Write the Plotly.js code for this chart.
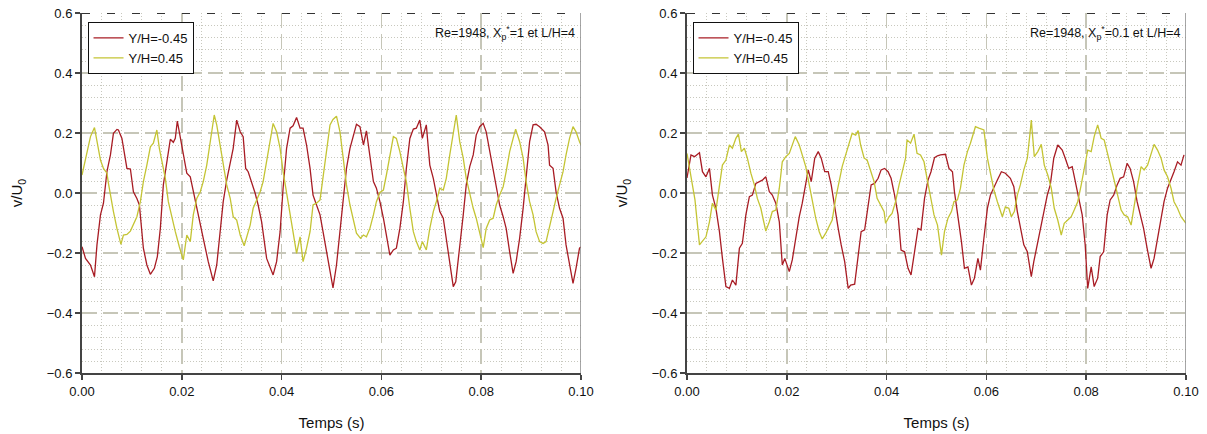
<!DOCTYPE html>
<html><head><meta charset="utf-8">
<script src="https://cdn.plot.ly/plotly-3.0.1.min.js"></script>
<style>html,body{margin:0;padding:0;background:#fff}#chart{width:1207px;height:434px}</style>
</head><body><div id="chart"></div>
<script>
// ---- Data: left panel (Xp*=1) ----
const leftRedT = [0.0000,0.0007,0.0017,0.0025,0.0030,0.0037,0.0043,0.0050,0.0057,0.0063,0.0070,0.0073,0.0080,0.0090,0.0097,0.0103,0.0110,0.0115,0.0123,0.0130,0.0137,0.0145,0.0151,0.0157,0.0163,0.0171,0.0177,0.0183,0.0187,0.0191,0.0197,0.0203,0.0210,0.0217,0.0227,0.0233,0.0243,0.0253,0.0263,0.0270,0.0277,0.0283,0.0290,0.0297,0.0303,0.0310,0.0317,0.0323,0.0328,0.0333,0.0340,0.0347,0.0353,0.0360,0.0370,0.0377,0.0383,0.0390,0.0397,0.0403,0.0410,0.0417,0.0423,0.0430,0.0437,0.0443,0.0450,0.0457,0.0463,0.0470,0.0477,0.0483,0.0490,0.0497,0.0503,0.0510,0.0517,0.0524,0.0530,0.0537,0.0544,0.0550,0.0557,0.0564,0.0570,0.0577,0.0584,0.0590,0.0597,0.0604,0.0610,0.0617,0.0624,0.0630,0.0637,0.0644,0.0650,0.0657,0.0664,0.0670,0.0677,0.0682,0.0690,0.0697,0.0704,0.0710,0.0717,0.0724,0.0730,0.0737,0.0744,0.0749,0.0757,0.0764,0.0770,0.0777,0.0784,0.0790,0.0797,0.0804,0.0810,0.0817,0.0824,0.0830,0.0837,0.0844,0.0850,0.0857,0.0864,0.0870,0.0877,0.0884,0.0890,0.0897,0.0904,0.0910,0.0917,0.0927,0.0934,0.0937,0.0944,0.0950,0.0957,0.0964,0.0970,0.0977,0.0984,0.0990,0.0997,0.1000];
const leftRedV = [-0.179,-0.218,-0.240,-0.279,-0.173,-0.073,-0.034,0.071,0.127,0.199,0.212,0.210,0.182,0.082,0.080,0.004,-0.018,-0.040,-0.184,-0.240,-0.271,-0.251,-0.212,-0.118,0.027,0.116,0.179,0.169,0.182,0.240,0.182,0.127,0.066,0.054,-0.029,-0.073,-0.151,-0.229,-0.293,-0.240,-0.118,-0.029,0.043,0.099,0.149,0.243,0.204,0.188,0.082,0.071,0.038,-0.001,-0.040,-0.096,-0.218,-0.251,-0.273,-0.229,-0.129,0.016,0.149,0.216,0.224,0.252,0.216,0.216,0.160,0.082,-0.007,-0.040,-0.073,-0.129,-0.196,-0.262,-0.316,-0.240,-0.118,-0.007,0.082,0.149,0.193,0.229,0.221,0.160,0.207,0.127,0.038,0.016,-0.029,-0.084,-0.140,-0.207,-0.190,-0.184,-0.118,-0.029,0.082,0.182,0.213,0.216,0.243,0.182,0.227,0.093,0.049,-0.007,-0.062,-0.084,-0.151,-0.240,-0.312,-0.296,-0.184,-0.073,0.027,0.088,0.127,0.193,0.221,0.232,0.204,0.138,0.082,0.016,-0.040,-0.079,-0.118,-0.196,-0.268,-0.229,-0.151,-0.051,0.049,0.171,0.227,0.229,0.221,0.204,0.160,0.093,0.082,0.004,-0.051,-0.084,-0.173,-0.240,-0.301,-0.251,-0.184,-0.180];
const leftYelT = [0.0000,0.0010,0.0017,0.0025,0.0030,0.0037,0.0043,0.0050,0.0053,0.0057,0.0063,0.0070,0.0078,0.0083,0.0090,0.0097,0.0103,0.0110,0.0117,0.0123,0.0130,0.0137,0.0143,0.0150,0.0155,0.0160,0.0167,0.0173,0.0180,0.0187,0.0195,0.0203,0.0210,0.0217,0.0223,0.0230,0.0237,0.0243,0.0250,0.0257,0.0265,0.0270,0.0277,0.0283,0.0290,0.0297,0.0303,0.0310,0.0317,0.0325,0.0330,0.0337,0.0343,0.0350,0.0357,0.0363,0.0370,0.0377,0.0383,0.0390,0.0397,0.0403,0.0410,0.0417,0.0423,0.0430,0.0437,0.0443,0.0450,0.0457,0.0463,0.0470,0.0477,0.0483,0.0490,0.0497,0.0503,0.0510,0.0517,0.0524,0.0530,0.0537,0.0544,0.0550,0.0558,0.0564,0.0570,0.0577,0.0584,0.0590,0.0597,0.0604,0.0610,0.0617,0.0624,0.0630,0.0637,0.0644,0.0650,0.0657,0.0664,0.0670,0.0677,0.0682,0.0690,0.0697,0.0704,0.0710,0.0717,0.0724,0.0730,0.0737,0.0744,0.0750,0.0757,0.0764,0.0770,0.0777,0.0784,0.0790,0.0797,0.0804,0.0810,0.0817,0.0824,0.0830,0.0837,0.0844,0.0850,0.0857,0.0864,0.0869,0.0877,0.0884,0.0890,0.0897,0.0904,0.0910,0.0917,0.0924,0.0930,0.0937,0.0944,0.0950,0.0957,0.0964,0.0970,0.0977,0.0984,0.0990,0.0997,0.1000];
const leftYelV = [0.060,0.138,0.188,0.218,0.177,0.110,0.082,0.066,0.032,-0.007,-0.062,-0.118,-0.171,-0.140,-0.138,-0.127,-0.107,-0.079,-0.029,0.038,0.093,0.154,0.166,0.210,0.149,0.104,0.049,-0.029,-0.084,-0.129,-0.179,-0.223,-0.140,-0.162,-0.073,-0.018,0.004,0.038,0.093,0.171,0.260,0.227,0.160,0.099,0.027,-0.018,-0.079,-0.090,-0.140,-0.176,-0.146,-0.107,-0.051,-0.023,0.004,0.038,0.104,0.182,0.232,0.204,0.149,0.071,0.004,-0.062,-0.129,-0.201,-0.146,-0.229,-0.184,-0.129,-0.040,-0.034,-0.023,0.049,0.149,0.227,0.245,0.256,0.204,0.116,0.027,-0.040,-0.096,-0.134,-0.151,-0.140,-0.146,-0.118,-0.073,-0.029,0.002,0.010,0.060,0.127,0.188,0.182,0.138,0.082,0.038,-0.051,-0.129,-0.162,-0.190,-0.162,-0.190,-0.118,-0.062,-0.029,0.016,0.010,0.049,0.127,0.204,0.260,0.171,0.116,0.049,-0.007,-0.051,-0.084,-0.129,-0.182,-0.118,-0.090,-0.084,-0.040,-0.007,0.021,0.071,0.138,0.182,0.213,0.171,0.116,0.038,-0.029,-0.073,-0.129,-0.162,-0.168,-0.162,-0.107,-0.062,-0.018,0.027,0.071,0.127,0.182,0.221,0.204,0.171,0.160];

// ---- Data: right panel (Xp*=0.1) ----
const rightRedT = [0.0000,0.0008,0.0015,0.0025,0.0031,0.0038,0.0045,0.0051,0.0058,0.0065,0.0071,0.0078,0.0085,0.0091,0.0098,0.0105,0.0111,0.0118,0.0125,0.0131,0.0138,0.0145,0.0151,0.0158,0.0165,0.0171,0.0178,0.0185,0.0191,0.0196,0.0205,0.0211,0.0218,0.0225,0.0231,0.0238,0.0243,0.0249,0.0256,0.0263,0.0269,0.0276,0.0283,0.0289,0.0296,0.0303,0.0309,0.0316,0.0323,0.0328,0.0336,0.0343,0.0349,0.0356,0.0363,0.0369,0.0376,0.0383,0.0389,0.0396,0.0403,0.0409,0.0416,0.0423,0.0429,0.0436,0.0443,0.0449,0.0456,0.0463,0.0469,0.0476,0.0483,0.0489,0.0496,0.0502,0.0508,0.0518,0.0525,0.0532,0.0536,0.0543,0.0550,0.0556,0.0563,0.0570,0.0576,0.0583,0.0588,0.0595,0.0602,0.0608,0.0615,0.0622,0.0630,0.0638,0.0648,0.0655,0.0662,0.0668,0.0675,0.0682,0.0690,0.0695,0.0702,0.0708,0.0715,0.0722,0.0728,0.0735,0.0743,0.0752,0.0758,0.0765,0.0772,0.0778,0.0785,0.0792,0.0798,0.0803,0.0810,0.0816,0.0823,0.0828,0.0835,0.0842,0.0848,0.0855,0.0862,0.0868,0.0875,0.0882,0.0888,0.0895,0.0902,0.0908,0.0915,0.0922,0.0930,0.0936,0.0943,0.0950,0.0956,0.0963,0.0970,0.0976,0.0983,0.0990,0.0996];
const rightRedV = [0.050,0.127,0.121,0.134,0.071,0.054,0.082,-0.007,-0.051,-0.129,-0.218,-0.312,-0.318,-0.290,-0.307,-0.184,-0.168,-0.073,-0.012,-0.007,0.032,0.038,0.043,0.054,0.004,-0.007,-0.034,-0.096,-0.240,-0.218,-0.262,-0.223,-0.151,-0.079,-0.034,0.038,0.077,0.038,0.116,0.138,0.116,0.071,0.071,0.027,-0.051,-0.118,-0.173,-0.229,-0.318,-0.307,-0.304,-0.218,-0.129,-0.123,-0.040,0.027,0.032,0.049,0.077,0.082,0.071,0.049,-0.007,-0.073,-0.190,-0.196,-0.251,-0.273,-0.196,-0.118,-0.123,-0.018,0.043,0.071,0.118,0.124,0.127,0.129,0.082,0.071,0.004,-0.073,-0.162,-0.251,-0.246,-0.307,-0.284,-0.218,-0.257,-0.151,-0.051,-0.007,0.016,0.043,0.071,0.066,0.049,0.021,-0.062,-0.118,-0.173,-0.196,-0.279,-0.229,-0.173,-0.129,-0.062,-0.007,0.027,0.116,0.160,0.143,0.116,0.082,0.088,0.038,-0.012,-0.073,-0.173,-0.318,-0.246,-0.312,-0.284,-0.212,-0.196,-0.073,-0.023,-0.007,0.027,0.049,0.054,0.099,0.082,0.038,-0.029,-0.073,-0.118,-0.184,-0.251,-0.218,-0.151,-0.096,-0.029,0.016,0.043,0.071,0.104,0.093,0.127];
const rightYelT = [0.0000,0.0009,0.0016,0.0025,0.0031,0.0038,0.0045,0.0051,0.0058,0.0065,0.0071,0.0078,0.0085,0.0091,0.0098,0.0103,0.0109,0.0115,0.0121,0.0128,0.0135,0.0141,0.0148,0.0153,0.0158,0.0165,0.0171,0.0178,0.0185,0.0191,0.0198,0.0205,0.0211,0.0217,0.0225,0.0231,0.0238,0.0245,0.0251,0.0258,0.0265,0.0271,0.0278,0.0285,0.0291,0.0298,0.0305,0.0311,0.0318,0.0325,0.0331,0.0338,0.0343,0.0348,0.0355,0.0361,0.0368,0.0375,0.0381,0.0388,0.0395,0.0398,0.0405,0.0411,0.0418,0.0425,0.0431,0.0438,0.0441,0.0448,0.0455,0.0461,0.0468,0.0475,0.0481,0.0488,0.0495,0.0502,0.0510,0.0516,0.0523,0.0530,0.0535,0.0542,0.0548,0.0555,0.0562,0.0568,0.0575,0.0578,0.0585,0.0595,0.0602,0.0608,0.0615,0.0622,0.0628,0.0632,0.0638,0.0645,0.0650,0.0656,0.0662,0.0668,0.0675,0.0682,0.0687,0.0690,0.0696,0.0703,0.0710,0.0716,0.0723,0.0730,0.0736,0.0743,0.0750,0.0756,0.0763,0.0770,0.0776,0.0783,0.0790,0.0796,0.0803,0.0810,0.0816,0.0823,0.0830,0.0836,0.0843,0.0850,0.0856,0.0863,0.0870,0.0876,0.0883,0.0890,0.0896,0.0903,0.0910,0.0916,0.0923,0.0930,0.0936,0.0943,0.0950,0.0956,0.0963,0.0970,0.0976,0.0983,0.0990,0.1000];
const rightYelV = [0.132,0.038,-0.023,-0.173,-0.162,-0.146,-0.096,-0.034,-0.057,0.027,0.093,0.110,0.160,0.149,0.182,0.196,0.138,0.149,0.116,0.066,0.027,-0.018,-0.051,-0.090,-0.127,-0.096,-0.062,-0.057,0.016,0.104,0.121,0.132,0.160,0.188,0.160,0.127,0.088,0.027,-0.029,-0.084,-0.129,-0.153,-0.134,-0.112,-0.090,-0.018,0.038,0.088,0.127,0.171,0.199,0.193,0.208,0.160,0.116,0.110,0.071,0.038,-0.018,-0.040,-0.062,-0.101,-0.079,-0.068,-0.029,0.027,0.066,0.116,0.177,0.166,0.196,0.132,0.127,0.104,0.049,-0.007,-0.073,-0.107,-0.207,-0.129,-0.084,-0.062,-0.029,-0.023,0.016,0.093,0.138,0.166,0.204,0.221,0.216,0.210,0.116,0.071,0.010,-0.029,-0.062,-0.079,-0.046,-0.051,-0.079,-0.062,-0.007,0.027,0.077,0.116,0.193,0.243,0.121,0.138,0.162,0.093,0.060,0.016,-0.051,-0.090,-0.140,-0.101,-0.090,-0.079,-0.057,-0.029,0.027,0.077,0.143,0.138,0.188,0.227,0.182,0.177,0.132,0.082,0.043,-0.007,-0.057,-0.073,-0.079,-0.107,-0.040,0.027,0.088,0.077,0.093,0.132,0.162,0.143,0.116,0.077,0.054,0.016,-0.029,-0.051,-0.079,-0.101];

const seriesNames = ['Y/H=-0.45', 'Y/H=0.45'];
const panelNotes = ['Re=1948, X<sub>p</sub><sup>*</sup>=1 et L/H=4', 'Re=1948, X<sub>p</sub><sup>*</sup>=0.1 et L/H=4'];
const xTitle = 'Temps (s)';
const yTitle = 'v/U<sub>0</sub>';

const RED = 'rgb(168,28,36)';
const YEL = 'rgb(196,196,52)';
const FONT = 'Liberation Sans, Arial, sans-serif';

function tr(x, y, name, color, xa, ya, leg) {
  return {x, y, name, type: 'scatter', mode: 'lines', line: {color, width: 1.3},
          xaxis: xa, yaxis: ya, legend: leg};
}
const data = [
  tr(leftRedT, leftRedV, seriesNames[0], RED, 'x', 'y', 'legend'),
  tr(leftYelT, leftYelV, seriesNames[1], YEL, 'x', 'y', 'legend'),
  tr(rightRedT, rightRedV, seriesNames[0], RED, 'x2', 'y2', 'legend2'),
  tr(rightYelT, rightYelV, seriesNames[1], YEL, 'x2', 'y2', 'legend2')
];

const GRID = 'rgb(198,198,184)';
function xax(domain, anchor) {
  return {domain, anchor, range: [0, 0.1], dtick: 0.02, tick0: 0, tickformat: '.2f',
    showline: true, linecolor: '#444', linewidth: 2, ticks: 'outside', ticklen: 5, tickcolor: '#444', tickwidth: 1.5,
    showgrid: true, gridcolor: GRID, gridwidth: 1.5, griddash: '15px,6px', zeroline: false,
    minor: {dtick: 0.004, showgrid: true, gridcolor: 'rgb(200,200,190)', gridwidth: 1, griddash: '1px,2px'},
    tickfont: {size: 13, color: '#111', family: FONT},
    title: {text: xTitle, font: {size: 15, color: '#111', family: FONT}, standoff: 20}};
}
function yax(anchor) {
  return {domain: [0, 1], anchor, range: [-0.6, 0.6], dtick: 0.2, tick0: 0, tickformat: '.1f',
    showline: true, linecolor: '#444', linewidth: 2, ticks: 'outside', ticklen: 5, tickcolor: '#444', tickwidth: 1.5,
    showgrid: true, gridcolor: GRID, gridwidth: 1.5, griddash: '15px,6px', zeroline: false,
    minor: {dtick: 0.04, showgrid: true, gridcolor: 'rgb(200,200,190)', gridwidth: 1, griddash: '1px,2px'},
    tickfont: {size: 13, color: '#111', family: FONT},
    title: {text: yTitle, font: {size: 15, color: '#111', family: FONT}, standoff: 20}};
}
const legendStyle = (x) => ({x, y: 0.975, xanchor: 'left', yanchor: 'top', xref: 'paper', yref: 'paper',
  bgcolor: '#fff', bordercolor: '#111', borderwidth: 1, font: {size: 13, color: '#111', family: FONT},
  tracegroupgap: 0, itemwidth: 30});

const shapes = [];
['x', 'x2'].forEach((xa, i) => {
  const ya = i === 0 ? 'y' : 'y2';
  shapes.push({type: 'line', xref: xa, yref: ya, x0: 0, x1: 0.1, y0: 0.6, y1: 0.6,
    line: {color: '#333', width: 2, dash: '8px,17px'}});
  shapes.push({type: 'line', xref: xa, yref: ya, x0: 0.1, x1: 0.1, y0: -0.6, y1: 0.6,
    line: {color: '#888', width: 1.5}});
});

const layout = {
  width: 1207, height: 434, paper_bgcolor: '#fff', plot_bgcolor: '#fff',
  margin: {l: 82, r: 21, t: 13, b: 61},
  font: {family: FONT, color: '#111'},
  showlegend: true,
  xaxis: xax([0, 0.452], 'y'),
  yaxis: yax('x'),
  xaxis2: xax([0.548, 1], 'y2'),
  yaxis2: yax('x2'),
  legend: legendStyle(0.005),
  legend2: legendStyle(0.553),
  shapes,
  annotations: [
    {xref: 'x', yref: 'paper', x: 0.0992, y: 0.974, xanchor: 'right', yanchor: 'top', text: panelNotes[0], showarrow: false, font: {size: 12.5, color: '#111', family: FONT}},
    {xref: 'x2', yref: 'paper', x: 0.0992, y: 0.974, xanchor: 'right', yanchor: 'top', text: panelNotes[1], showarrow: false, font: {size: 12.5, color: '#111', family: FONT}}
  ]
};
Plotly.newPlot('chart', data, layout, {displayModeBar: false, staticPlot: true});
</script></body></html>
